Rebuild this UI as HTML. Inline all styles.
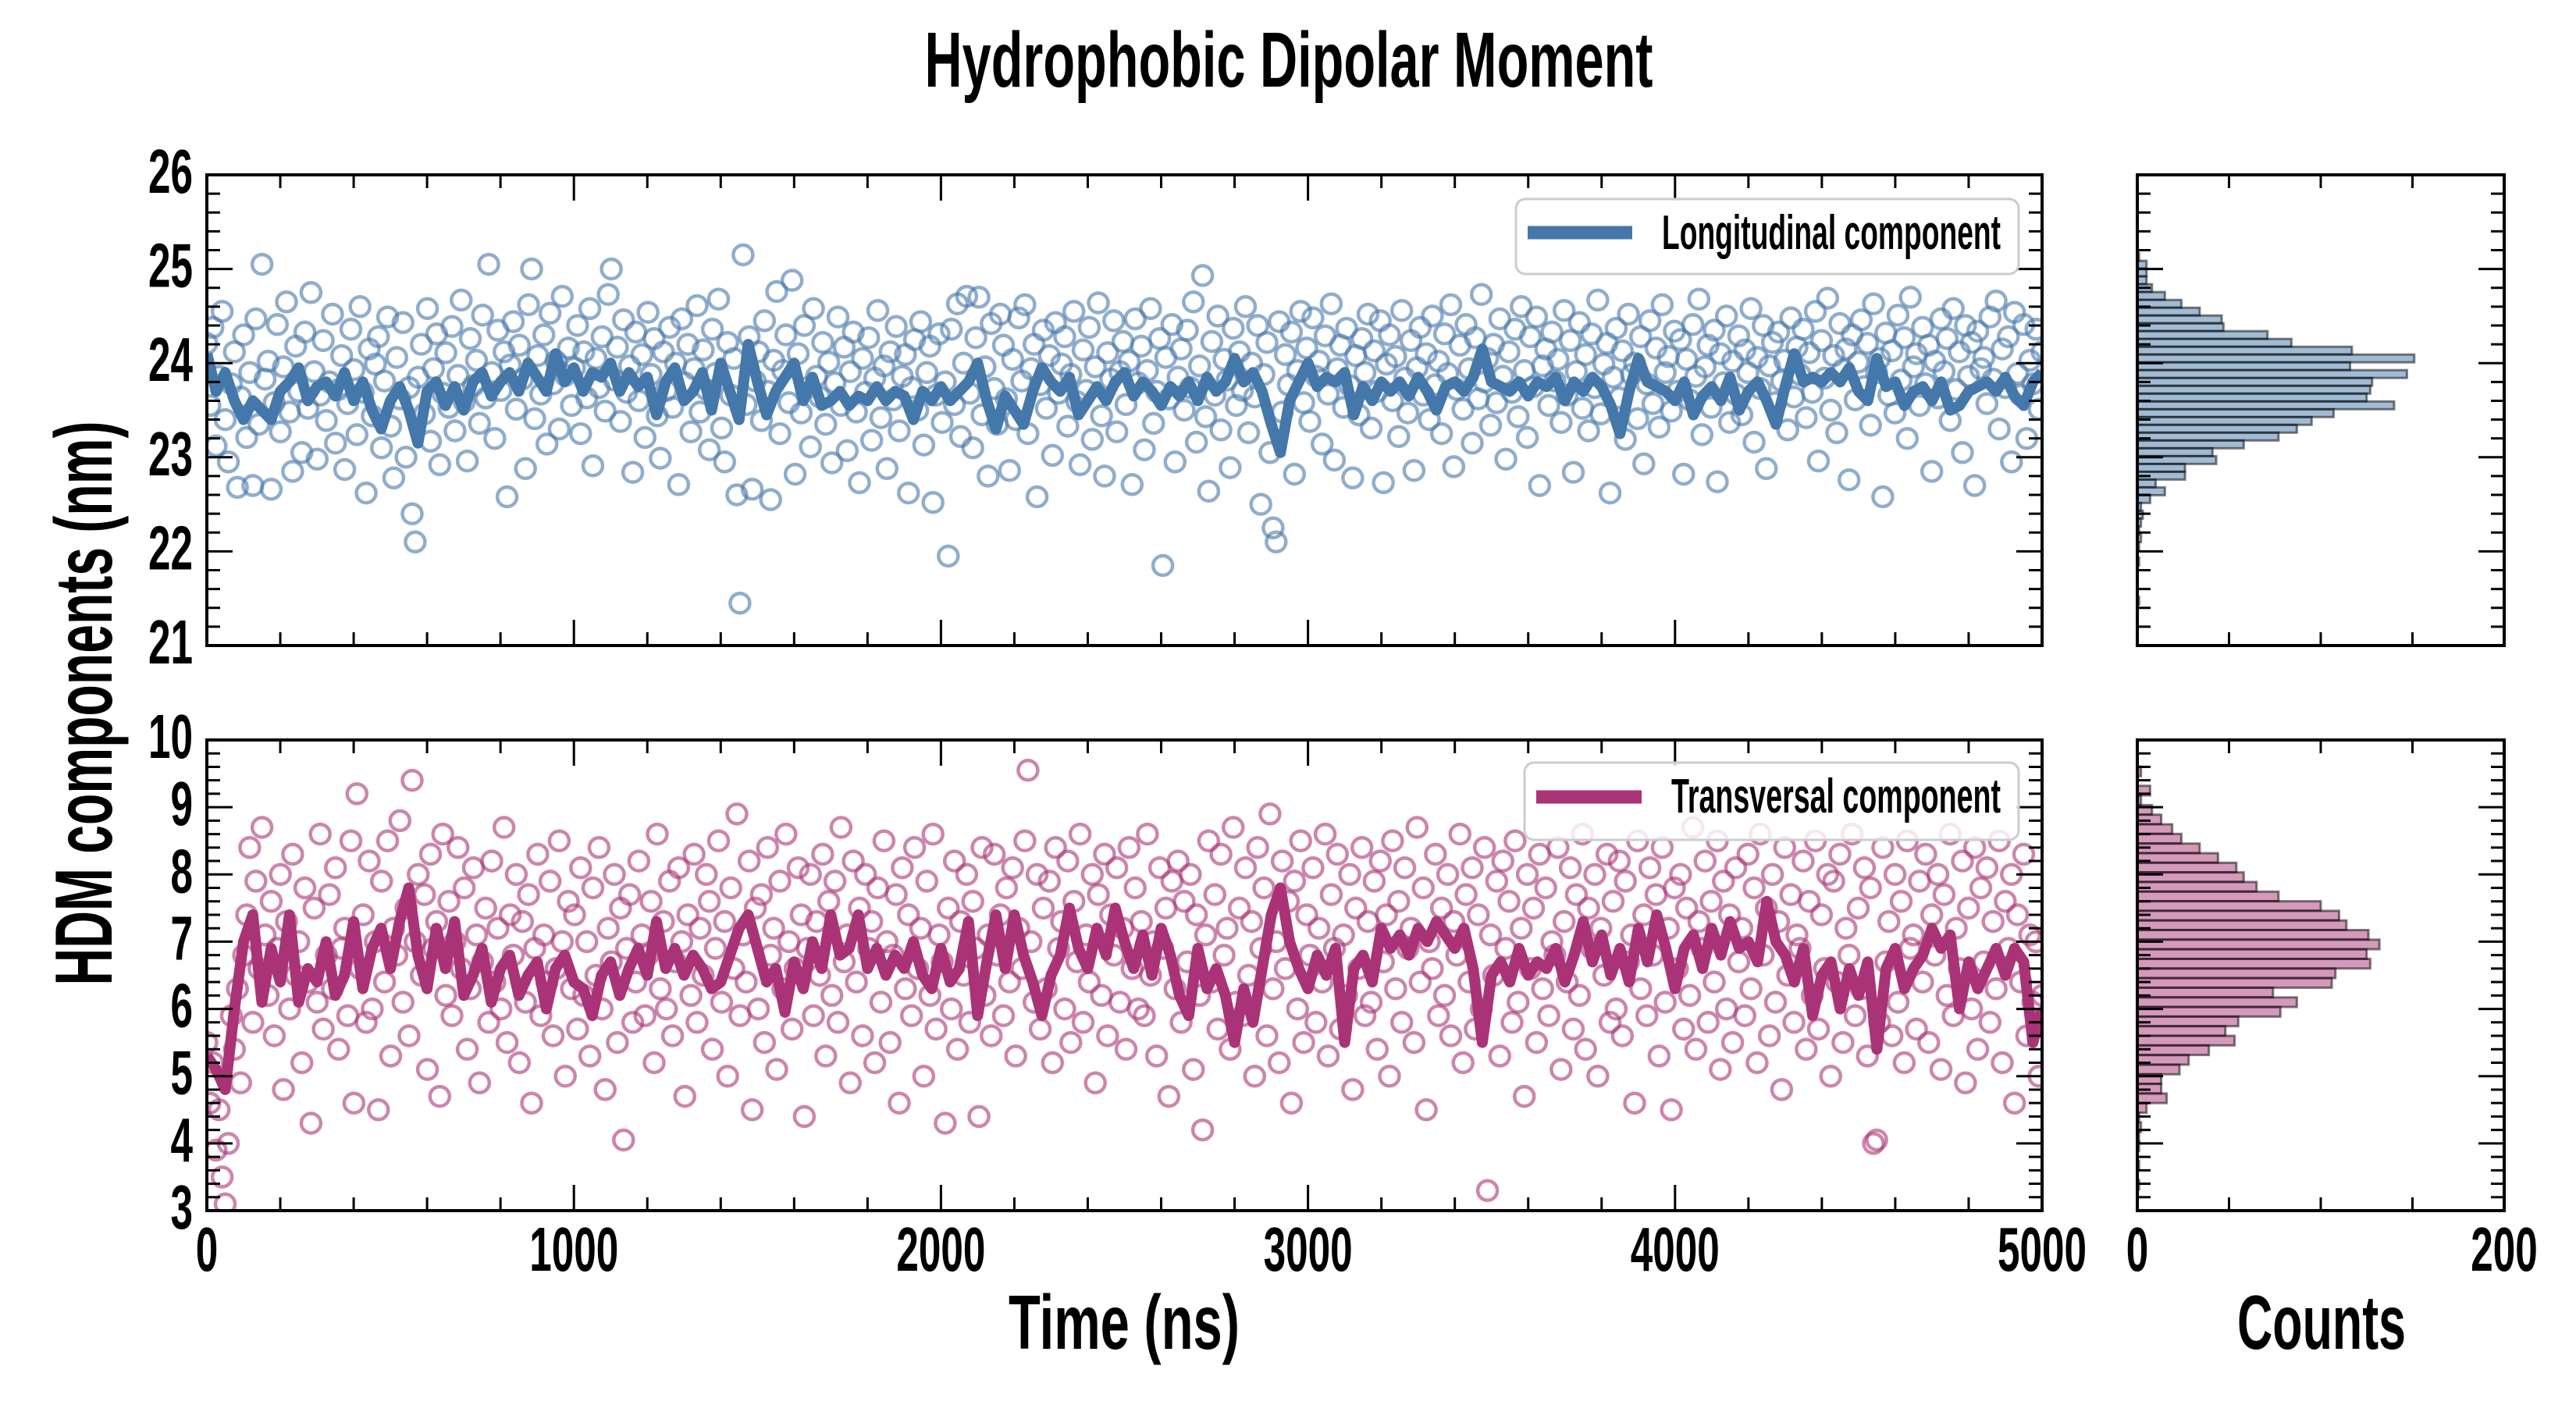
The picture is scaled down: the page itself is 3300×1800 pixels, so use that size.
<!DOCTYPE html>
<html><head><meta charset="utf-8"><title>Hydrophobic Dipolar Moment</title>
<style>
html,body{margin:0;padding:0;background:#fff;}
svg{display:block;}
text{font-family:"Liberation Sans Narrow","Liberation Sans",sans-serif;font-weight:bold;fill:#000;}
</style></head>
<body>
<svg id="chart" width="3300" height="1800" viewBox="0 0 3300 1800" xmlns="http://www.w3.org/2000/svg">
<defs>
<clipPath id="clipTop"><rect x="265" y="224" width="2351" height="603"/></clipPath>
<clipPath id="clipBot"><rect x="265" y="948" width="2351" height="603"/></clipPath>
</defs>
<text x="1651" y="111" font-size="100" text-anchor="middle" textLength="933" lengthAdjust="spacingAndGlyphs">Hydrophobic Dipolar Moment</text>
<text transform="translate(143,901) rotate(-90)" font-size="104" text-anchor="middle" textLength="723" lengthAdjust="spacingAndGlyphs">HDM components (nm)</text>
<text x="1440" y="1728" font-size="98" text-anchor="middle" textLength="296" lengthAdjust="spacingAndGlyphs">Time (ns)</text>
<text x="2974" y="1728" font-size="98" text-anchor="middle" textLength="216" lengthAdjust="spacingAndGlyphs">Counts</text>
<g id="gTopScatter" clip-path="url(#clipTop)"></g>
<g id="gTopLine" clip-path="url(#clipTop)"></g>
<g id="gBotScatter" clip-path="url(#clipBot)"></g>
<g id="gBotLine" clip-path="url(#clipBot)"></g>
<g id="gHistTop"></g>
<g id="gHistBot"></g>
<g id="gAxes"></g>
<g>
<rect x="1942" y="255" width="644" height="96" rx="12" fill="#fff" fill-opacity="0.8" stroke="#cccccc" stroke-width="3"/>
<line x1="1957" y1="298" x2="2091" y2="298" stroke="#4477aa" stroke-width="17"/>
<text x="2129" y="319" font-size="62" textLength="434" lengthAdjust="spacingAndGlyphs">Longitudinal component</text>
</g>
<g>
<rect x="1953" y="977" width="633" height="99" rx="12" fill="#fff" fill-opacity="0.8" stroke="#cccccc" stroke-width="3"/>
<line x1="1968" y1="1021" x2="2103" y2="1021" stroke="#aa3377" stroke-width="17"/>
<text x="2141" y="1041" font-size="62" textLength="422" lengthAdjust="spacingAndGlyphs">Transversal component</text>
</g>
</svg>
<script>
const timeMax = 5000;
const topLine = [24.1,23.7,23.9,23.6,23.4,23.6,23.5,23.4,23.7,23.8,23.95,23.6,23.75,23.8,23.65,23.9,23.6,23.8,23.5,23.3,23.6,23.75,23.5,23.15,23.7,23.8,23.55,23.75,23.5,23.8,23.9,23.65,23.8,23.9,23.7,24.0,23.85,23.7,24.1,23.8,23.95,23.7,23.9,23.85,24.0,23.7,23.9,23.75,23.85,23.45,23.8,23.95,23.6,23.7,23.9,23.5,24.0,23.7,23.4,24.2,23.8,23.45,23.7,23.85,24.0,23.6,23.85,23.55,23.6,23.7,23.55,23.65,23.6,23.75,23.6,23.7,23.65,23.4,23.7,23.6,23.75,23.6,23.7,23.8,24.0,23.6,23.3,23.65,23.5,23.35,23.7,23.95,23.8,23.7,23.85,23.45,23.6,23.75,23.6,23.8,23.9,23.65,23.8,23.7,23.55,23.75,23.65,23.8,23.6,23.85,23.7,23.8,24.05,23.8,23.9,23.7,23.35,23.05,23.6,23.8,24.0,23.75,23.85,23.8,23.9,23.45,23.75,23.6,23.8,23.7,23.8,23.65,23.85,23.7,23.5,23.75,23.8,23.7,23.85,24.15,23.8,23.75,23.7,23.8,23.65,23.8,23.75,23.85,23.6,23.8,23.7,23.85,23.75,23.55,23.25,23.7,24.05,23.8,23.75,23.7,23.6,23.8,23.45,23.65,23.75,23.6,23.85,23.5,23.7,23.8,23.6,23.35,23.75,24.1,23.8,23.85,23.8,23.9,23.8,23.95,23.7,23.6,24.05,23.75,23.8,23.55,23.7,23.75,23.6,23.8,23.5,23.55,23.7,23.75,23.8,23.7,23.85,23.65,23.55,23.8,23.9];
const botLine = [5.3,5.1,4.8,6.0,7.0,7.4,6.1,6.9,6.4,7.4,6.1,6.6,6.4,7.0,6.2,6.5,7.3,6.3,6.9,7.2,6.6,7.3,7.8,6.8,6.3,7.2,6.6,7.3,6.2,6.5,6.9,6.1,6.6,6.8,6.2,6.5,6.7,6.0,6.6,6.8,6.4,6.3,5.9,6.5,6.7,6.2,6.6,6.9,6.5,7.3,6.6,6.9,6.5,6.8,6.6,6.3,6.4,6.8,7.2,7.4,6.9,6.4,6.6,5.95,6.7,6.3,7.0,6.6,7.4,6.8,6.9,7.4,6.6,6.9,6.5,6.8,6.6,7.0,6.5,6.3,6.9,6.4,6.6,7.3,5.9,6.7,7.4,6.6,7.4,6.8,6.4,5.9,6.5,6.8,7.5,6.9,6.6,7.2,6.8,7.5,7.0,6.6,7.1,6.5,7.2,6.8,6.2,5.9,6.9,6.3,6.6,6.2,5.5,6.3,5.8,6.6,7.4,7.8,7.0,6.6,6.3,6.8,6.5,6.9,5.5,6.6,6.8,6.4,7.2,6.9,7.1,6.8,7.2,7.0,7.3,7.1,6.9,7.2,6.6,5.5,6.5,6.7,6.4,6.9,6.5,6.7,6.6,6.9,6.4,6.8,7.3,6.7,7.1,6.5,6.9,6.4,7.2,6.7,7.4,6.9,6.3,6.9,7.1,6.6,7.2,6.8,7.3,6.9,7.0,6.7,7.6,7.0,6.8,6.4,6.9,5.9,6.5,6.7,6.0,6.6,6.2,6.7,5.4,6.6,6.9,6.3,6.6,6.8,7.2,6.9,7.1,6.0,6.7,6.3,6.6,6.9,6.5,6.9,6.7,5.5,6.0];
const topScatter = [24.21,23.55,24.38,23.12,23.86,24.55,23.40,22.95,23.78,24.12,22.68,23.64,24.30,23.21,23.90,22.70,24.47,23.35,25.05,23.83,
24.02,22.66,23.58,24.41,23.27,23.96,24.65,23.48,22.85,24.18,23.70,23.05,24.33,23.52,24.75,23.91,22.98,23.66,24.24,23.39,
23.80,24.52,23.15,23.72,24.08,22.87,23.57,24.36,23.93,23.24,24.60,23.69,22.62,24.15,23.44,23.99,24.28,23.10,23.81,24.49,
23.33,22.78,24.06,23.62,24.43,23.00,23.74,22.40,22.10,23.85,24.20,23.46,24.58,23.17,23.94,24.31,22.92,23.68,24.11,23.53,
24.39,23.28,23.87,24.67,23.59,22.96,24.26,23.76,24.03,23.36,24.51,23.63,25.05,23.90,23.20,24.35,23.71,24.12,22.58,23.98,
24.44,23.51,24.19,23.83,22.88,24.62,25.00,23.41,24.08,23.67,24.30,23.14,24.53,23.78,24.02,23.30,24.71,23.87,24.16,23.55,
23.95,24.40,23.25,24.12,23.63,24.58,22.91,24.05,23.74,24.28,23.49,24.73,25.00,23.82,24.17,23.38,24.46,23.69,23.97,22.84,
24.33,23.60,24.09,23.21,24.54,23.88,24.26,23.44,22.99,24.12,23.71,24.38,23.53,24.00,22.71,24.47,23.79,24.20,23.27,23.94,
24.61,23.48,24.14,23.72,23.08,24.36,23.89,24.68,23.31,22.95,24.22,23.66,24.05,22.60,21.45,25.15,23.56,24.28,22.66,23.81,
24.12,23.39,24.45,23.70,22.55,24.03,24.76,23.25,23.92,24.30,23.58,24.88,22.82,24.10,23.47,24.40,23.74,23.11,24.58,23.86,
23.64,24.22,23.35,24.01,22.94,23.79,24.49,23.55,24.17,23.07,23.91,24.33,23.48,22.73,24.05,23.69,24.27,23.18,23.84,24.56,
23.42,23.97,22.88,24.12,23.61,24.39,23.28,23.86,24.09,22.62,23.74,24.25,23.50,24.44,23.13,23.90,24.18,22.52,23.66,24.31,
23.37,23.80,21.95,24.36,23.56,24.63,23.22,24.00,24.71,23.68,23.10,24.27,24.70,23.45,23.96,22.80,24.42,23.73,23.35,24.52,
24.19,23.62,22.86,24.04,23.40,24.48,23.81,24.62,23.25,23.94,24.20,22.58,23.77,24.35,23.52,24.08,23.02,24.43,23.68,23.99,
24.28,23.33,23.88,24.55,23.59,22.92,24.14,23.71,24.38,23.19,23.96,24.64,23.44,22.80,24.11,23.83,24.45,23.27,23.91,24.23,
23.56,24.02,22.71,24.47,23.79,24.18,23.08,23.92,24.58,23.36,23.70,24.26,21.85,24.06,23.62,24.41,22.95,23.85,24.15,23.50,
24.35,23.74,24.65,23.16,23.97,24.93,23.43,22.64,24.23,23.66,24.50,23.29,24.04,23.82,22.89,24.37,23.55,24.12,23.71,24.60,
23.26,24.00,23.64,24.40,22.50,23.88,24.22,23.05,22.25,22.10,24.44,23.48,24.09,23.77,24.33,22.82,23.92,24.55,23.58,24.16,
23.38,24.48,23.86,24.02,23.14,24.29,23.67,24.63,22.97,23.94,24.19,23.53,24.37,23.76,22.78,24.08,23.45,24.26,23.90,24.52,
23.31,24.13,23.70,24.45,22.73,23.99,24.30,23.60,24.07,23.22,24.56,23.84,23.47,24.24,22.86,23.95,24.38,23.66,24.10,23.40,
24.50,23.77,24.02,23.25,24.31,23.89,24.62,22.90,23.72,24.19,23.51,24.41,23.94,23.15,24.27,23.62,24.73,23.80,24.05,23.34,
24.20,23.58,24.47,23.86,22.98,24.12,23.69,24.36,23.43,24.60,23.92,23.21,24.28,23.75,24.49,22.70,23.97,24.15,23.55,24.33,
23.81,24.04,23.37,24.56,23.66,24.24,22.84,23.91,24.43,23.52,24.09,23.28,24.31,23.74,24.67,23.46,23.99,24.21,22.62,23.85,
24.37,23.63,24.13,23.19,24.52,23.88,24.00,23.41,24.28,22.93,23.78,24.45,23.57,24.16,23.32,24.62,23.90,24.07,23.49,24.34,
23.70,24.25,22.82,24.04,23.61,24.41,23.86,24.68,23.24,23.96,24.19,23.53,24.35,22.74,24.10,23.79,24.50,23.37,24.02,23.67,
24.29,23.45,24.14,23.90,24.58,23.16,24.06,23.73,24.40,22.88,23.97,24.22,23.58,24.33,23.81,24.03,23.29,24.48,23.64,24.17,
23.88,24.36,23.42,24.11,23.69,24.55,22.96,24.24,23.84,24.69,23.50,24.08,23.26,24.42,23.93,24.15,22.76,24.30,23.61,24.01,
24.46,23.75,24.21,23.34,24.63,23.90,24.05,22.58,24.32,23.66,24.13,23.47,24.51,23.82,24.27,23.20,24.70,23.96,24.10,23.55,
24.38,23.78,24.19,22.85,24.02,23.63,24.47,23.91,24.26,23.39,24.58,23.72,24.12,23.05,24.40,23.86,24.22,22.70,24.34,23.94,
24.06,23.57,24.49,23.83,24.66,23.30,24.15,23.74,24.28,22.95,24.54,23.89,23.66,24.41,23.20,24.03,23.78,24.36,23.51,24.12];
const botScatter = [5.5,4.6,5.2,3.9,4.5,3.5,3.1,4.0,5.9,5.4,6.3,4.9,6.8,7.4,8.4,5.8,7.9,6.6,8.7,7.1,
6.2,7.6,5.6,6.9,8.0,4.8,7.3,6.0,8.3,6.5,7.0,5.2,7.8,6.4,4.3,7.5,6.1,8.6,5.7,6.8,
7.7,6.3,8.1,5.4,6.9,7.2,5.9,8.5,4.6,9.2,6.6,7.4,5.8,8.2,6.0,7.0,4.5,7.9,6.4,8.5,
5.3,7.2,6.8,8.8,6.1,7.5,5.6,9.4,7.0,8.0,6.5,7.7,5.1,8.3,6.9,7.3,4.7,8.6,6.2,7.6,
5.9,7.0,8.4,6.6,7.8,5.4,6.3,8.1,7.1,4.9,6.7,7.5,5.8,8.2,6.4,7.2,6.0,8.7,5.5,7.4,
6.8,8.0,5.2,7.3,6.1,7.7,4.6,6.9,8.3,5.9,7.1,6.4,7.9,5.6,6.6,8.5,7.0,5.0,7.6,6.3,
7.4,5.7,8.1,6.2,7.0,5.3,7.8,6.5,8.4,6.0,4.8,7.2,6.7,8.0,5.5,7.5,4.05,6.9,7.7,5.8,
6.4,8.2,7.1,5.9,6.8,7.6,5.2,8.6,6.3,7.3,6.0,7.9,5.6,6.7,8.1,7.0,4.7,7.4,6.2,8.3,
5.8,7.2,6.5,8.0,7.6,5.4,6.9,8.5,6.1,7.3,5.0,7.8,6.6,8.9,5.9,7.1,6.4,8.2,4.5,7.5,
6.0,7.7,5.5,8.4,6.8,7.2,5.1,7.9,6.3,8.6,7.0,5.7,6.6,8.1,7.4,4.4,6.9,8.0,5.9,7.3,
6.5,8.3,5.3,7.6,6.2,7.9,5.8,8.7,6.7,7.1,4.9,8.2,6.4,7.5,5.6,8.0,6.9,7.3,5.2,7.8,
6.1,8.5,7.0,5.5,6.8,7.7,4.6,8.1,6.3,7.4,5.9,8.4,6.6,7.2,5.0,7.9,6.2,8.6,5.7,7.1,
6.7,4.3,7.5,6.0,8.2,5.4,7.3,6.5,8.0,5.8,7.6,6.9,4.4,8.4,6.2,7.1,5.6,8.3,6.8,7.4,
5.9,7.8,6.4,8.1,5.3,7.2,6.6,8.5,9.55,7.0,6.1,8.0,5.7,7.5,6.3,7.9,5.2,8.4,6.9,7.3,
6.0,8.2,5.5,7.6,6.7,8.6,5.8,7.1,6.4,8.0,4.9,7.7,6.2,8.3,5.6,7.4,6.8,8.1,6.1,7.2,
5.4,8.4,6.6,7.8,6.0,7.3,5.9,8.6,6.5,7.0,5.3,8.1,6.9,7.5,4.7,7.9,6.3,8.2,5.8,7.6,
6.7,8.0,5.1,7.4,6.2,4.2,7.1,8.5,6.4,7.7,5.7,8.3,6.8,7.2,5.4,8.7,6.1,7.5,5.9,8.1,
6.5,7.3,5.0,8.4,6.9,7.8,5.6,8.9,6.3,7.0,5.2,8.2,6.6,7.6,4.6,7.9,6.0,8.5,5.5,7.4,
6.8,8.1,5.8,7.2,6.4,8.6,5.3,7.7,6.9,8.3,5.7,7.1,6.2,8.0,4.8,7.5,6.6,8.4,5.9,7.3,
6.1,7.9,5.4,8.2,6.7,7.4,5.0,8.5,6.3,7.6,5.8,8.1,6.9,7.2,5.5,8.7,6.4,7.8,4.5,7.0,
6.6,8.3,5.9,7.5,6.2,8.0,5.6,7.3,6.8,8.6,5.2,7.7,6.4,8.1,5.7,7.4,6.0,8.4,3.3,7.1,
6.5,7.9,5.3,8.2,6.9,7.6,5.8,8.5,6.1,7.2,4.7,8.0,6.6,7.5,5.5,8.3,6.3,7.8,5.9,7.0,
6.8,8.4,5.1,7.3,6.4,8.1,5.7,7.7,6.2,8.6,5.4,7.5,6.9,8.0,5.0,7.2,6.5,8.3,5.8,7.6,
6.0,8.2,5.6,7.9,6.7,7.1,4.6,8.5,6.3,7.4,5.9,8.1,6.8,7.7,5.3,8.4,6.1,7.2,4.5,7.8,
6.6,8.0,5.7,7.5,6.2,8.7,5.4,7.3,6.9,8.2,5.8,7.6,6.4,8.5,5.1,7.9,6.0,7.4,5.5,8.1,
6.7,7.2,5.9,8.3,6.3,7.8,5.2,8.6,6.8,7.5,5.6,8.0,6.1,7.3,4.8,8.4,6.5,7.7,5.8,7.1,
6.9,8.2,5.4,7.6,6.2,8.5,5.7,7.4,6.6,8.0,5.0,7.9,6.4,8.3,5.5,7.2,6.8,8.6,5.9,7.5,
6.3,8.1,5.3,7.8,4.0,4.05,5.8,8.4,6.7,7.3,5.6,8.0,6.1,7.6,5.2,8.5,6.9,7.1,5.7,7.9,
6.4,8.3,5.5,7.4,6.8,8.0,5.1,7.7,6.2,8.6,5.9,7.2,6.6,8.2,4.9,7.5,6.0,8.4,5.4,7.8,
6.7,8.1,5.8,7.3,6.3,8.5,5.2,7.6,6.9,8.0,4.6,7.4,6.4,8.3,5.6,7.1,6.1,7.0,5.0,6.2];
const histTopEdge = 25.17;
const histTopBinWidth = 0.083;
const histTopCounts = [1,5,5,5,8,15,24,34,46,47,71,84,117,151,116,147,128,127,125,140,107,95,87,77,58,41,43,26,26,10,15,7,2,3,2,1,2,1,0,1,0,0,0,0,1];
const histBotEdge = 9.604;
const histBotBinWidth = 0.143;
const histBotCounts = [2,0,7,2,8,13,19,24,34,44,54,58,65,77,100,110,114,126,132,125,127,108,106,74,87,78,55,48,53,39,28,23,13,13,16,5,1,2,1,1,0,1,0,1];
const xTicks = [0,1000,2000,3000,4000,5000];
const topYTicks = [21,22,23,24,25,26];
const botYTicks = [3,4,5,6,7,8,9,10];
const histTicks = [0,200];

const NS = 'http://www.w3.org/2000/svg';
const PX0 = 265, PX1 = 2616;
const TOP = {y0: 224, y1: 827, min: 21, max: 26};
const BOT = {y0: 948, y1: 1551, min: 3, max: 10};
const HX0 = 2738, HX1 = 3208, HMAX = 200;
function xT(t){ return PX0 + t / timeMax * (PX1 - PX0); }
function yS(p, v){ return p.y1 - (v - p.min) / (p.max - p.min) * (p.y1 - p.y0); }
function xH(c){ return HX0 + c / HMAX * (HX1 - HX0); }
function mk(tag, attrs, parent){
  const e = document.createElementNS(NS, tag);
  for (const k in attrs) e.setAttribute(k, attrs[k]);
  parent.appendChild(e);
  return e;
}

function drawScatter(gid, vals, p, color, name){
  const g = document.getElementById(gid);
  const n = vals.length;
  vals.forEach((v, i) => {
    const c = mk('circle', {cx: xT(i * timeMax / (n - 1)).toFixed(1), cy: yS(p, v).toFixed(1), r: 12.5, fill: 'none', stroke: color, 'stroke-opacity': 0.6, 'stroke-width': 4.5}, g);
    
    
  });
}
function drawLine(gid, vals, p, color, name){
  const g = document.getElementById(gid);
  const n = vals.length;
  const pts = vals.map((v, i) => xT(i * timeMax / (n - 1)).toFixed(1) + ',' + yS(p, v).toFixed(1)).join(' ');
  const l = mk('polyline', {points: pts, fill: 'none', stroke: color, 'stroke-width': 14, 'stroke-linejoin': 'round'}, g);
  
  
}
function drawHist(gid, counts, edge, bw, p, color, name){
  const g = document.getElementById(gid);
  counts.forEach((c, i) => {
    if (c <= 0) return;
    const hi = edge - i * bw, lo = edge - (i + 1) * bw;
    const yA = yS(p, hi), yB = yS(p, lo);
    const r = mk('rect', {x: HX0, y: yA.toFixed(1), width: (xH(c) - HX0).toFixed(1), height: (yB - yA).toFixed(1), fill: color, 'fill-opacity': 0.5, stroke: '#000', 'stroke-opacity': 0.5, 'stroke-width': 3}, g);
    
    
  });
}
drawScatter('gTopScatter', topScatter, TOP, '#4477aa', 'longitudinal-point');
drawLine('gTopLine', topLine, TOP, '#4477aa', 'longitudinal-line');
drawScatter('gBotScatter', botScatter, BOT, '#aa3377', 'transversal-point');
drawLine('gBotLine', botLine, BOT, '#aa3377', 'transversal-line');
drawHist('gHistTop', histTopCounts, histTopEdge, histTopBinWidth, TOP, '#4477aa', 'longitudinal-hist-bar');
drawHist('gHistBot', histBotCounts, histBotEdge, histBotBinWidth, BOT, '#aa3377', 'transversal-hist-bar');

const ax = document.getElementById('gAxes');
function tick(x1, y1, x2, y2){ mk('line', {x1: x1, y1: y1, x2: x2, y2: y2, stroke: '#000', 'stroke-width': 3}, ax); }
function label(x, y, s, anchor, nm){
  const t = mk('text', {x: x, y: y, 'font-size': 80, 'text-anchor': anchor, textLength: s.length * 28.5, lengthAdjust: 'spacingAndGlyphs'}, ax);
  t.textContent = s;
  
  
}
function panel(p, xa, xb, isMain, labelX, yTicks, namePrefix){
  for (let v = p.min; v <= p.max + 1e-9; v += 0.2){
    const y = yS(p, v);
    const major = Math.abs(v - Math.round(v)) < 1e-6;
    const L = major ? 33 : 17;
    tick(xa, y, xa + L, y);
    tick(xb, y, xb - L, y);
  }
  if (isMain){
    for (let t = 0; t <= timeMax; t += 200){
      const x = xT(t);
      const L = (t % 1000 === 0) ? 33 : 17;
      tick(x, p.y0, x, p.y0 + L);
      tick(x, p.y1, x, p.y1 - L);
    }
  } else {
    for (let c = 0; c <= HMAX; c += 50){
      const x = xH(c);
      tick(x, p.y0, x, p.y0 + 17);
      tick(x, p.y1, x, p.y1 - 17);
    }
  }
  const fr = mk('rect', {x: xa, y: p.y0, width: xb - xa, height: p.y1 - p.y0, fill: 'none', stroke: '#000', 'stroke-width': 4}, ax);
  
  
  if (labelX) yTicks.forEach(v => label(247, yS(p, v) + 23, String(v), 'end', 'y-tick-label'));
}
panel(TOP, PX0, PX1, true, true, topYTicks, 'longitudinal-plot');
panel(BOT, PX0, PX1, true, true, botYTicks, 'transversal-plot');
panel(TOP, HX0, HX1, false, false, [], 'longitudinal-hist');
panel(BOT, HX0, HX1, false, false, [], 'transversal-hist');
xTicks.forEach(t => label(xT(t), 1628, String(t), 'middle', 'x-tick-label'));
histTicks.forEach(c => label(xH(c), 1628, String(c), 'middle', 'counts-tick-label'));
</script>
</body></html>
